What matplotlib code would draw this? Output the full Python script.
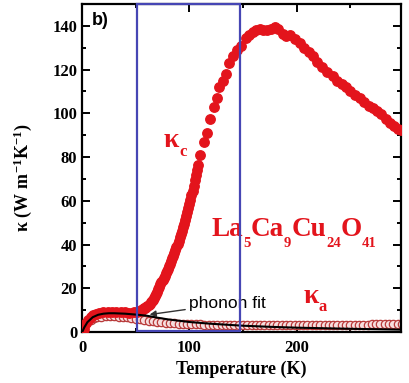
import matplotlib
matplotlib.use("Agg")
import matplotlib.pyplot as plt
from matplotlib.patches import Rectangle

plt.rcParams['mathtext.fontset'] = 'custom'
plt.rcParams['mathtext.rm'] = 'Liberation Serif:bold'
plt.rcParams['mathtext.it'] = 'Liberation Serif:bold'
plt.rcParams['mathtext.bf'] = 'Liberation Serif:bold'

# kappa_c (filled red circles)
T_c = [2, 4, 6, 8, 10, 13, 16, 20, 24, 28, 32, 36, 40, 44, 48, 51,
       54, 55, 56, 57, 58, 59, 60, 61, 62, 63, 64, 65, 66, 67, 68, 69, 70,
       71, 72, 73, 74, 75, 76, 77, 78, 79, 80, 81, 82, 83, 84, 85, 86, 87,
       88, 89, 90, 91, 92, 93, 94, 95, 96, 97, 98, 99, 100, 101, 102, 103,
       104, 105, 106, 107, 108, 110, 113.7, 116.6, 119.4, 122.5,
       125.3, 128, 131.5, 134.6, 137, 140.8, 144.5, 148.5, 152.6, 156, 159,
       162, 165.6, 169, 172, 176, 179.5, 183, 187, 190, 193.5, 198, 202.8,
       207, 211, 215, 219, 224, 228, 233.5, 238, 242, 246, 250, 254, 258.6,
       263, 267, 271, 275, 279, 283.4, 287, 291, 294, 297]
k_c = [1.5, 4.0, 5.5, 6.8, 7.6, 8.4, 8.9, 9.3, 9.4, 9.4, 9.3, 9.1, 9.0, 8.9,
       9.0, 9.2,
       9.8, 10.0, 10.3, 10.6, 10.9, 11.2, 11.6, 12.0, 12.5, 13.0, 13.6, 14.2,
       14.8, 15.6, 16.5, 17.5, 18.5, 19.6, 20.8, 21.8, 22.8, 23.8, 24.8, 25.8,
       26.8, 27.9, 29.0, 30.1, 31.3, 32.5, 33.8, 35.0, 36.3, 37.6, 39.0, 40.4,
       41.8, 43.3, 44.8, 46.4, 48.0, 49.6, 51.3, 53.0, 54.8, 56.6, 58.5, 60.5,
       62.5, 64.7, 67.0, 69.5, 72.0, 74.2, 76.5, 81.0, 87.0, 91.2, 97.4,
       103.0, 107.0,
       112.0, 115.0, 118.0, 123.0, 126.0, 129.0, 131.0, 134.5, 136.0, 137.0,
       138.0, 138.5, 138.0, 138.0, 138.5, 139.5, 138.5, 136.5, 135.5, 136.0,
       134.0, 132.0, 130.0, 128.0, 126.0, 123.5, 121.0, 119.0, 117.0, 115.0,
       113.5, 112.0, 110.0, 108.5, 107.0, 105.0, 103.5, 102.5, 101.0, 99.5,
       97.5, 95.5, 94.0, 93.0, 92.5]

# kappa_a (open circles)
T_a = [2, 5, 8, 11, 14, 18, 22, 26, 30, 34, 38, 42, 46, 50, 54, 58, 62, 66,
       70, 74, 78, 82, 86, 90, 94, 98, 102, 106, 110, 114, 118, 122, 126,
       130, 134, 138, 142, 146, 150, 154, 158, 162, 166, 170, 174, 178, 182,
       186, 190, 194, 198, 202, 206, 210, 214, 218, 222, 226, 230, 234, 238,
       242, 246, 250, 254, 258, 262, 266, 270, 274, 278, 282, 286, 290, 294,
       298]
k_a = [2.5, 4.5, 5.6, 6.3, 6.7, 7.0, 7.2, 7.3, 7.2, 7.1, 6.9, 6.7, 6.4, 6.1,
       5.8, 5.5, 5.2, 5.0, 4.7, 4.5, 4.3, 4.2, 4.0, 3.9, 3.8, 3.7, 3.6, 3.5,
       3.5, 3.4, 3.4, 3.3, 3.3, 3.3, 3.2, 3.2, 3.2, 3.2, 3.2, 3.2, 3.2, 3.2,
       3.2, 3.2, 3.2, 3.2, 3.2, 3.2, 3.2, 3.2, 3.2, 3.2, 3.3, 3.3, 3.3, 3.3,
       3.3, 3.3, 3.3, 3.3, 3.3, 3.4, 3.4, 3.4, 3.4, 3.4, 3.4, 3.4, 3.5, 3.5,
       3.5, 3.5, 3.5, 3.5, 3.5, 3.5]

# phonon fit (black line)
T_fit = [0.5, 2, 5, 10, 15, 20, 25, 30, 40, 50, 60, 70, 80, 90, 100, 120,
         150, 175, 200, 250, 297]
k_fit = [0.3, 2.0, 4.5, 6.8, 7.9, 8.4, 8.6, 8.6, 8.4, 8.0, 7.5, 6.6, 5.8,
         5.2, 4.6, 3.8, 2.9, 2.4, 2.0, 1.5, 1.1]

red = '#e3141c'
serif = 'Liberation Serif'


def place_runs(ax, x, y, runs, color):
    """Write text runs one after another, with their own size and drop (px)."""
    renderer = ax.figure.canvas.get_renderer()
    dx = 0.0
    for txt, size, drop in runs:
        t = ax.annotate(txt, xy=(x, y), xycoords='data', xytext=(dx, -drop),
                        textcoords='offset pixels', color=color,
                        fontfamily=serif, fontweight='bold', fontsize=size,
                        ha='left', va='baseline')
        dx += t.get_window_extent(renderer).width


fig = plt.figure(figsize=(4.09, 3.83), dpi=100)
ax = fig.add_axes([0.2005, 0.133, 0.7795, 0.8566])

ax.plot(T_a, k_a, 'o', ms=6, mfc='#f7dede', mec='#b83a3a', mew=0.9, zorder=2)
ax.plot(T_c, k_c, 'o', ms=6.8, color=red, mec=red, zorder=3)
ax.plot(T_fit, k_fit, '-', color='black', lw=1.5, zorder=4)

ax.add_patch(Rectangle((51, 0.4), 96, 149.4, fill=False, edgecolor='#4646b4',
                       lw=1.6, zorder=5, clip_on=False))

ax.set_xlim(0, 297)
ax.set_ylim(0, 150)
ax.set_xticks([0, 100, 200])
ax.set_xticks([50, 150, 250], minor=True)
ax.set_yticks(range(0, 141, 20))
ax.set_yticks(range(10, 151, 20), minor=True)
ax.tick_params(which='both', direction='in', top=True, right=True, width=1.4)
ax.tick_params(which='major', length=5.5, labelsize=12)
ax.tick_params(axis='x', which='major', pad=6)
ax.tick_params(which='minor', length=3)
for lab in ax.get_xticklabels() + ax.get_yticklabels():
    lab.set_fontfamily(serif)
    lab.set_fontweight('bold')
for sp in ax.spines.values():
    sp.set_linewidth(1.6)

ax.set_xlabel('Temperature (K)', fontfamily=serif,
              fontweight='bold', fontsize=13, labelpad=3)
ax.set_ylabel(r'$\kappa\ \mathrm{(W\ m^{-1}K^{-1})}$', fontsize=13)
ax.yaxis.set_label_coords(-0.15, 0.47)

ax.text(0.03, 0.975, 'b)', transform=ax.transAxes, fontfamily='Liberation Sans',
        fontweight='bold', fontsize=13, va='top', ha='left')

place_runs(ax, 76, 84.5, [('κ', 20, 0), ('c', 12, 9)], red)
place_runs(ax, 206, 13.5, [('κ', 20, 0), ('a', 12, 8)], red)
place_runs(ax, 121, 44, [('La', 19.5, 0), ('5', 10.5, 11), ('Ca', 19.5, 0),
                         ('9', 10.5, 11), ('Cu', 19.5, 0), ('24', 10.5, 11),
                         ('O', 19.5, 0), ('41', 10.5, 11)], red)

ax.annotate('phonon fit', xy=(63, 8.0), xytext=(100, 13),
            fontfamily='Liberation Sans', fontsize=12.5, va='center', ha='left',
            arrowprops=dict(arrowstyle='-|>', color='#333333', lw=1.0,
                            mutation_scale=9, shrinkA=1, shrinkB=0))

fig.savefig('out.png', dpi=100)
